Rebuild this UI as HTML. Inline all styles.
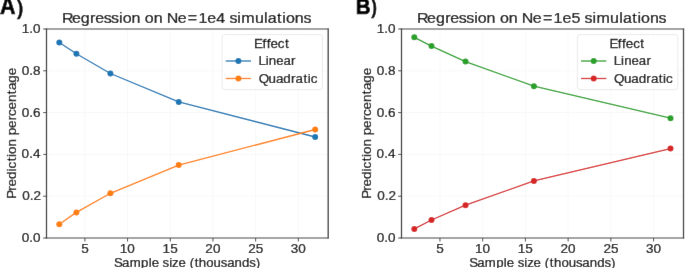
<!DOCTYPE html>
<html><head><meta charset="utf-8"><style>
html,body{margin:0;padding:0;background:#fff;}
body{width:685px;height:268px;overflow:hidden;}
svg{display:block;}
text{font-family:"Liberation Sans",sans-serif;}

</style></head><body>
<svg width="685" height="268" viewBox="0 0 685 268">
<defs><filter id="bl" x="0" y="0" width="100%" height="100%"><feConvolveMatrix order="3" kernelMatrix="0 1 0 1 16 1 0 1 0" edgeMode="duplicate"/></filter></defs>
<rect width="685" height="268" fill="#fff"/>
<g filter="url(#bl)">
<rect width="685" height="268" fill="#fff"/>
<line x1="84.91" y1="29.0" x2="84.91" y2="238.0" stroke="#f8f8f8" stroke-width="1"/>
<line x1="127.60" y1="29.0" x2="127.60" y2="238.0" stroke="#f8f8f8" stroke-width="1"/>
<line x1="170.28" y1="29.0" x2="170.28" y2="238.0" stroke="#f8f8f8" stroke-width="1"/>
<line x1="212.96" y1="29.0" x2="212.96" y2="238.0" stroke="#f8f8f8" stroke-width="1"/>
<line x1="255.64" y1="29.0" x2="255.64" y2="238.0" stroke="#f8f8f8" stroke-width="1"/>
<line x1="298.32" y1="29.0" x2="298.32" y2="238.0" stroke="#f8f8f8" stroke-width="1"/>
<line x1="46.5" y1="196.20" x2="328.2" y2="196.20" stroke="#f8f8f8" stroke-width="1"/>
<line x1="46.5" y1="154.40" x2="328.2" y2="154.40" stroke="#f8f8f8" stroke-width="1"/>
<line x1="46.5" y1="112.60" x2="328.2" y2="112.60" stroke="#f8f8f8" stroke-width="1"/>
<line x1="46.5" y1="70.80" x2="328.2" y2="70.80" stroke="#f8f8f8" stroke-width="1"/>
<polyline points="59.30,42.50 76.40,53.70 110.40,73.50 178.70,101.90 315.20,137.00" fill="none" stroke="#1f77b4" stroke-width="1.3" stroke-linejoin="round"/>
<circle cx="59.30" cy="42.50" r="3.0" fill="#1f77b4"/>
<circle cx="76.40" cy="53.70" r="3.0" fill="#1f77b4"/>
<circle cx="110.40" cy="73.50" r="3.0" fill="#1f77b4"/>
<circle cx="178.70" cy="101.90" r="3.0" fill="#1f77b4"/>
<circle cx="315.20" cy="137.00" r="3.0" fill="#1f77b4"/>
<polyline points="59.30,224.30 76.40,212.40 110.40,193.30 178.70,165.10 315.20,129.50" fill="none" stroke="#ff7f0e" stroke-width="1.3" stroke-linejoin="round"/>
<circle cx="59.30" cy="224.30" r="3.0" fill="#ff7f0e"/>
<circle cx="76.40" cy="212.40" r="3.0" fill="#ff7f0e"/>
<circle cx="110.40" cy="193.30" r="3.0" fill="#ff7f0e"/>
<circle cx="178.70" cy="165.10" r="3.0" fill="#ff7f0e"/>
<circle cx="315.20" cy="129.50" r="3.0" fill="#ff7f0e"/>
<line x1="46.5" y1="28.4" x2="46.5" y2="238.6" stroke="#383838" stroke-width="1.3"/>
<line x1="328.2" y1="28.4" x2="328.2" y2="238.6" stroke="#383838" stroke-width="1.3"/>
<line x1="45.9" y1="29.0" x2="328.8" y2="29.0" stroke="#484848" stroke-width="1.2"/>
<line x1="45.9" y1="238.0" x2="328.8" y2="238.0" stroke="#484848" stroke-width="1.2"/>
<line x1="84.91" y1="238.0" x2="84.91" y2="241.5" stroke="#484848" stroke-width="1"/>
<line x1="127.60" y1="238.0" x2="127.60" y2="241.5" stroke="#484848" stroke-width="1"/>
<line x1="170.28" y1="238.0" x2="170.28" y2="241.5" stroke="#484848" stroke-width="1"/>
<line x1="212.96" y1="238.0" x2="212.96" y2="241.5" stroke="#484848" stroke-width="1"/>
<line x1="255.64" y1="238.0" x2="255.64" y2="241.5" stroke="#484848" stroke-width="1"/>
<line x1="298.32" y1="238.0" x2="298.32" y2="241.5" stroke="#484848" stroke-width="1"/>
<line x1="43.2" y1="238.00" x2="46.5" y2="238.00" stroke="#484848" stroke-width="1"/>
<line x1="43.2" y1="196.20" x2="46.5" y2="196.20" stroke="#484848" stroke-width="1"/>
<line x1="43.2" y1="154.40" x2="46.5" y2="154.40" stroke="#484848" stroke-width="1"/>
<line x1="43.2" y1="112.60" x2="46.5" y2="112.60" stroke="#484848" stroke-width="1"/>
<line x1="43.2" y1="70.80" x2="46.5" y2="70.80" stroke="#484848" stroke-width="1"/>
<line x1="43.2" y1="29.00" x2="46.5" y2="29.00" stroke="#484848" stroke-width="1"/>
<rect x="222.10" y="34.6" width="100.4" height="55.0" rx="2.5" fill="white" fill-opacity="0.8" stroke="#ebebeb" stroke-width="1"/>
<line x1="225.70" y1="61.0" x2="251.00" y2="61.0" stroke="#1f77b4" stroke-width="1.3"/>
<circle cx="238.40" cy="61.0" r="3.0" fill="#1f77b4"/>
<line x1="225.70" y1="78.5" x2="251.00" y2="78.5" stroke="#ff7f0e" stroke-width="1.3"/>
<circle cx="238.40" cy="78.5" r="3.0" fill="#ff7f0e"/>
<line x1="439.95" y1="29.0" x2="439.95" y2="238.0" stroke="#f8f8f8" stroke-width="1"/>
<line x1="482.68" y1="29.0" x2="482.68" y2="238.0" stroke="#f8f8f8" stroke-width="1"/>
<line x1="525.41" y1="29.0" x2="525.41" y2="238.0" stroke="#f8f8f8" stroke-width="1"/>
<line x1="568.14" y1="29.0" x2="568.14" y2="238.0" stroke="#f8f8f8" stroke-width="1"/>
<line x1="610.86" y1="29.0" x2="610.86" y2="238.0" stroke="#f8f8f8" stroke-width="1"/>
<line x1="653.59" y1="29.0" x2="653.59" y2="238.0" stroke="#f8f8f8" stroke-width="1"/>
<line x1="401.5" y1="196.20" x2="683.5" y2="196.20" stroke="#f8f8f8" stroke-width="1"/>
<line x1="401.5" y1="154.40" x2="683.5" y2="154.40" stroke="#f8f8f8" stroke-width="1"/>
<line x1="401.5" y1="112.60" x2="683.5" y2="112.60" stroke="#f8f8f8" stroke-width="1"/>
<line x1="401.5" y1="70.80" x2="683.5" y2="70.80" stroke="#f8f8f8" stroke-width="1"/>
<polyline points="414.30,37.30 431.50,46.10 465.50,61.60 533.90,86.20 670.50,118.20" fill="none" stroke="#2ca02c" stroke-width="1.3" stroke-linejoin="round"/>
<circle cx="414.30" cy="37.30" r="3.0" fill="#2ca02c"/>
<circle cx="431.50" cy="46.10" r="3.0" fill="#2ca02c"/>
<circle cx="465.50" cy="61.60" r="3.0" fill="#2ca02c"/>
<circle cx="533.90" cy="86.20" r="3.0" fill="#2ca02c"/>
<circle cx="670.50" cy="118.20" r="3.0" fill="#2ca02c"/>
<polyline points="414.30,228.90 431.50,220.00 465.50,205.20 533.90,180.90 670.50,148.60" fill="none" stroke="#d62728" stroke-width="1.3" stroke-linejoin="round"/>
<circle cx="414.30" cy="228.90" r="3.0" fill="#d62728"/>
<circle cx="431.50" cy="220.00" r="3.0" fill="#d62728"/>
<circle cx="465.50" cy="205.20" r="3.0" fill="#d62728"/>
<circle cx="533.90" cy="180.90" r="3.0" fill="#d62728"/>
<circle cx="670.50" cy="148.60" r="3.0" fill="#d62728"/>
<line x1="401.5" y1="28.4" x2="401.5" y2="238.6" stroke="#383838" stroke-width="1.3"/>
<line x1="683.5" y1="28.4" x2="683.5" y2="238.6" stroke="#383838" stroke-width="1.3"/>
<line x1="400.9" y1="29.0" x2="684.1" y2="29.0" stroke="#484848" stroke-width="1.2"/>
<line x1="400.9" y1="238.0" x2="684.1" y2="238.0" stroke="#484848" stroke-width="1.2"/>
<line x1="439.95" y1="238.0" x2="439.95" y2="241.5" stroke="#484848" stroke-width="1"/>
<line x1="482.68" y1="238.0" x2="482.68" y2="241.5" stroke="#484848" stroke-width="1"/>
<line x1="525.41" y1="238.0" x2="525.41" y2="241.5" stroke="#484848" stroke-width="1"/>
<line x1="568.14" y1="238.0" x2="568.14" y2="241.5" stroke="#484848" stroke-width="1"/>
<line x1="610.86" y1="238.0" x2="610.86" y2="241.5" stroke="#484848" stroke-width="1"/>
<line x1="653.59" y1="238.0" x2="653.59" y2="241.5" stroke="#484848" stroke-width="1"/>
<line x1="398.2" y1="238.00" x2="401.5" y2="238.00" stroke="#484848" stroke-width="1"/>
<line x1="398.2" y1="196.20" x2="401.5" y2="196.20" stroke="#484848" stroke-width="1"/>
<line x1="398.2" y1="154.40" x2="401.5" y2="154.40" stroke="#484848" stroke-width="1"/>
<line x1="398.2" y1="112.60" x2="401.5" y2="112.60" stroke="#484848" stroke-width="1"/>
<line x1="398.2" y1="70.80" x2="401.5" y2="70.80" stroke="#484848" stroke-width="1"/>
<line x1="398.2" y1="29.00" x2="401.5" y2="29.00" stroke="#484848" stroke-width="1"/>
<rect x="577.40" y="34.6" width="100.4" height="55.0" rx="2.5" fill="white" fill-opacity="0.8" stroke="#ebebeb" stroke-width="1"/>
<line x1="581.00" y1="61.0" x2="606.30" y2="61.0" stroke="#2ca02c" stroke-width="1.3"/>
<circle cx="593.70" cy="61.0" r="3.0" fill="#2ca02c"/>
<line x1="581.00" y1="78.5" x2="606.30" y2="78.5" stroke="#d62728" stroke-width="1.3"/>
<circle cx="593.70" cy="78.5" r="3.0" fill="#d62728"/>
<text transform="translate(0,22.60) scale(1.0691,1)" x="57.92 67.27 75.57 84.19 89.03 97.00 103.92 111.31 114.71 122.98 131.39 135.48 143.75 152.16 155.90 166.20 175.65 185.64 193.95 202.27 210.69 214.59 221.98 225.72 238.47 247.03 250.44 259.20 264.07 267.47 275.74 283.83" y="0" font-size="15.0" fill="#111" stroke="#111" stroke-width="0.25">Regression on Ne=1e4 simulations</text>
<text transform="translate(0,266.50) scale(1.0572,1)" x="107.83 115.51 122.67 133.41 140.60 143.52 150.48 153.79 160.00 162.76 168.79 175.76 179.38 184.10 188.11 195.08 202.06 208.87 214.87 221.85 228.96 235.78 241.92" y="0" font-size="12.5" fill="#111" stroke="#111" stroke-width="0.25">Sample size (thousands)</text>
<text transform="translate(0,252.70) scale(1.0836,1)" x="74.95" y="0" font-size="12.5" fill="#111" stroke="#111" stroke-width="0.25">5</text>
<text transform="translate(0,252.70) scale(1.0836,1)" x="110.57 117.52" y="0" font-size="12.5" fill="#111" stroke="#111" stroke-width="0.25">10</text>
<text transform="translate(0,252.70) scale(1.0836,1)" x="150.07 157.02" y="0" font-size="12.5" fill="#111" stroke="#111" stroke-width="0.25">15</text>
<text transform="translate(0,252.70) scale(1.0836,1)" x="189.54 196.49" y="0" font-size="12.5" fill="#111" stroke="#111" stroke-width="0.25">20</text>
<text transform="translate(0,252.70) scale(1.0836,1)" x="229.04 235.99" y="0" font-size="12.5" fill="#111" stroke="#111" stroke-width="0.25">25</text>
<text transform="translate(0,252.70) scale(1.0836,1)" x="268.32 275.27" y="0" font-size="12.5" fill="#111" stroke="#111" stroke-width="0.25">30</text>
<text transform="translate(0,241.90) scale(1.0836,1)" x="20.07 27.02 30.49" y="0" font-size="12.5" fill="#111" stroke="#111" stroke-width="0.25">0.0</text>
<text transform="translate(0,200.10) scale(1.0836,1)" x="20.45 27.40 30.87" y="0" font-size="12.5" fill="#111" stroke="#111" stroke-width="0.25">0.2</text>
<text transform="translate(0,158.30) scale(1.0836,1)" x="19.96 26.91 30.38" y="0" font-size="12.5" fill="#111" stroke="#111" stroke-width="0.25">0.4</text>
<text transform="translate(0,116.50) scale(1.0836,1)" x="20.01 26.96 30.44" y="0" font-size="12.5" fill="#111" stroke="#111" stroke-width="0.25">0.6</text>
<text transform="translate(0,74.70) scale(1.0836,1)" x="20.07 27.02 30.49" y="0" font-size="12.5" fill="#111" stroke="#111" stroke-width="0.25">0.8</text>
<text transform="translate(0,32.90) scale(1.0836,1)" x="20.07 27.02 30.49" y="0" font-size="12.5" fill="#111" stroke="#111" stroke-width="0.25">1.0</text>
<text transform="translate(0,47.90) scale(1.0719,1)" x="237.04 244.91 248.80 252.40 259.19 265.78" y="0" font-size="12.5" fill="#111" stroke="#111" stroke-width="0.25">Effect</text>
<text transform="translate(0,65.20) scale(1.0590,1)" x="244.14 250.89 253.90 260.88 267.75 274.87" y="0" font-size="12.5" fill="#111" stroke="#111" stroke-width="0.25">Linear</text>
<text transform="translate(0,82.60) scale(1.0732,1)" x="241.05 250.27 257.15 264.03 271.19 275.45 282.73 286.77 289.60" y="0" font-size="12.5" fill="#111" stroke="#111" stroke-width="0.25">Quadratic</text>
<text transform="translate(0,22.60) scale(1.0691,1)" x="390.12 399.46 407.76 416.38 421.23 429.20 436.12 443.50 446.91 455.18 463.59 467.67 475.95 484.35 488.10 498.40 507.84 517.84 526.15 534.46 542.88 546.79 554.18 557.91 570.67 579.22 582.63 591.40 596.26 599.67 607.94 616.03" y="0" font-size="15.0" fill="#111" stroke="#111" stroke-width="0.25">Regression on Ne=1e5 simulations</text>
<text transform="translate(0,266.50) scale(1.0572,1)" x="443.76 451.44 458.60 469.34 476.53 479.45 486.41 489.72 495.93 498.69 504.72 511.69 515.31 520.03 524.04 531.01 537.99 544.80 550.80 557.78 564.89 571.71 577.85" y="0" font-size="12.5" fill="#111" stroke="#111" stroke-width="0.25">Sample size (thousands)</text>
<text transform="translate(0,252.70) scale(1.0836,1)" x="402.61" y="0" font-size="12.5" fill="#111" stroke="#111" stroke-width="0.25">5</text>
<text transform="translate(0,252.70) scale(1.0836,1)" x="438.27 445.22" y="0" font-size="12.5" fill="#111" stroke="#111" stroke-width="0.25">10</text>
<text transform="translate(0,252.70) scale(1.0836,1)" x="477.81 484.76" y="0" font-size="12.5" fill="#111" stroke="#111" stroke-width="0.25">15</text>
<text transform="translate(0,252.70) scale(1.0836,1)" x="517.32 524.27" y="0" font-size="12.5" fill="#111" stroke="#111" stroke-width="0.25">20</text>
<text transform="translate(0,252.70) scale(1.0836,1)" x="556.86 563.81" y="0" font-size="12.5" fill="#111" stroke="#111" stroke-width="0.25">25</text>
<text transform="translate(0,252.70) scale(1.0836,1)" x="596.18 603.14" y="0" font-size="12.5" fill="#111" stroke="#111" stroke-width="0.25">30</text>
<text transform="translate(0,241.90) scale(1.0836,1)" x="347.67 354.62 358.09" y="0" font-size="12.5" fill="#111" stroke="#111" stroke-width="0.25">0.0</text>
<text transform="translate(0,200.10) scale(1.0836,1)" x="348.05 355.00 358.47" y="0" font-size="12.5" fill="#111" stroke="#111" stroke-width="0.25">0.2</text>
<text transform="translate(0,158.30) scale(1.0836,1)" x="347.56 354.51 357.98" y="0" font-size="12.5" fill="#111" stroke="#111" stroke-width="0.25">0.4</text>
<text transform="translate(0,116.50) scale(1.0836,1)" x="347.61 354.57 358.04" y="0" font-size="12.5" fill="#111" stroke="#111" stroke-width="0.25">0.6</text>
<text transform="translate(0,74.70) scale(1.0836,1)" x="347.67 354.62 358.09" y="0" font-size="12.5" fill="#111" stroke="#111" stroke-width="0.25">0.8</text>
<text transform="translate(0,32.90) scale(1.0836,1)" x="347.67 354.62 358.09" y="0" font-size="12.5" fill="#111" stroke="#111" stroke-width="0.25">1.0</text>
<text transform="translate(0,47.90) scale(1.0719,1)" x="568.52 576.39 580.28 583.88 590.67 597.26" y="0" font-size="12.5" fill="#111" stroke="#111" stroke-width="0.25">Effect</text>
<text transform="translate(0,65.20) scale(1.0590,1)" x="579.65 586.40 589.41 596.39 603.26 610.38" y="0" font-size="12.5" fill="#111" stroke="#111" stroke-width="0.25">Linear</text>
<text transform="translate(0,82.60) scale(1.0732,1)" x="572.11 581.34 588.21 595.10 602.26 606.51 613.80 617.84 620.67" y="0" font-size="12.5" fill="#111" stroke="#111" stroke-width="0.25">Quadratic</text>
<text transform="translate(16.00,196.71) rotate(-90) scale(1.0746,1)" x="-1.95 5.53 9.54 16.43 23.55 26.37 32.95 36.98 39.80 46.66 53.64 57.15 64.04 71.09 75.09 81.15 88.04 95.43 99.22 106.10 112.98" y="0" font-size="12.5" fill="#111" stroke="#111" stroke-width="0.25">Prediction percentage</text>
<text transform="translate(371.00,196.71) rotate(-90) scale(1.0746,1)" x="-1.95 5.53 9.54 16.43 23.55 26.37 32.95 36.98 39.80 46.66 53.64 57.15 64.04 71.09 75.09 81.15 88.04 95.43 99.22 106.10 112.98" y="0" font-size="12.5" fill="#111" stroke="#111" stroke-width="0.25">Prediction percentage</text>
<text x="-0.04" y="14.40" font-size="24" textLength="15.52" lengthAdjust="spacingAndGlyphs" fill="#000" font-weight="bold" stroke="#000" stroke-width="0.6">A</text>
<text x="16.90" y="14.50" font-size="20.6" textLength="6.31" lengthAdjust="spacingAndGlyphs" fill="#000" font-weight="bold" stroke="#000" stroke-width="0.4">)</text>
<text x="355.77" y="14.40" font-size="21.5" textLength="14.80" lengthAdjust="spacingAndGlyphs" fill="#000" font-weight="bold" stroke="#000" stroke-width="0.7">B</text>
<text x="371.30" y="14.20" font-size="20.6" textLength="5.73" lengthAdjust="spacingAndGlyphs" fill="#000" font-weight="bold" stroke="#000" stroke-width="0.4">)</text>
</g>
</svg>
</body></html>
